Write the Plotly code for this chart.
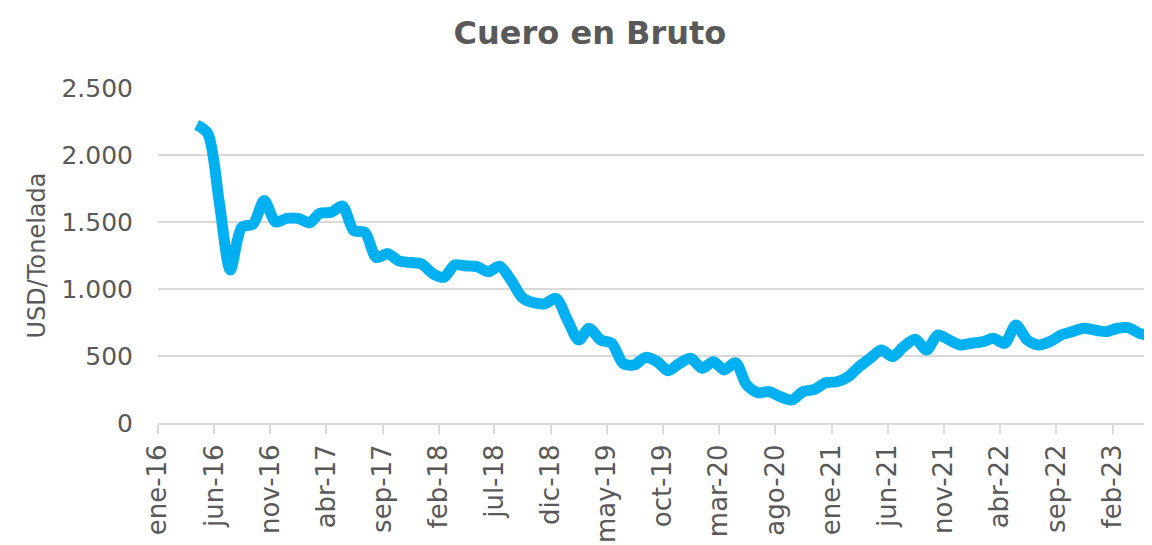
import pandas as pd
import plotly.graph_objects as go

# Monthly raw hide price (USD/Tonelada), abr-16 .. may-23 (plotted mid-month)
months = pd.date_range("2016-04-01", periods=86, freq="MS") + pd.Timedelta(days=14)
precio = [2224, 2160, 1650, 1142, 1460, 1485, 1660, 1500, 1527, 1527,
          1495, 1565, 1572, 1620, 1435, 1422, 1235, 1264, 1210, 1198,
          1188, 1115, 1088, 1179, 1172, 1167, 1129, 1170, 1067, 935,
          898, 890, 930, 769, 619, 707, 619, 595, 445, 433,
          490, 458, 390, 445, 483, 408, 458, 396, 450, 284,
          226, 234, 196, 172, 234, 251, 301, 308, 346, 418,
          483, 545, 495, 570, 625, 545, 657, 619, 582, 595,
          607, 632, 595, 731, 619, 582, 607, 657, 682, 707,
          694, 682, 707, 711, 669, 649]

tick_dates = pd.date_range("2016-01-01", periods=18, freq="5MS")
tick_labels = ["ene-16", "jun-16", "nov-16", "abr-17", "sep-17", "feb-18",
               "jul-18", "dic-18", "may-19", "oct-19", "mar-20", "ago-20",
               "ene-21", "jun-21", "nov-21", "abr-22", "sep-22", "feb-23"]
y_ticks = [0, 500, 1000, 1500, 2000, 2500]
y_labels = ["0", "500", "1.000", "1.500", "2.000", "2.500"]

FONT = "DejaVu Sans"
GREY = "#595959"

fig = go.Figure(go.Scatter(
    x=months, y=precio, mode="lines",
    line=dict(color="#00B0F0", width=11, shape="spline", smoothing=0.8),
    hoverinfo="x+y", showlegend=False,
))

fig.update_layout(
    width=1144, height=537,
    paper_bgcolor="white", plot_bgcolor="white",
    margin=dict(l=150, r=0, t=80, b=122, autoexpand=False),
    title=dict(text="<b>Cuero en Bruto</b>", x=0.5087, xanchor="center",
               y=0.953, yanchor="middle",
               font=dict(family=FONT, size=32, color=GREY)),
    font=dict(family=FONT, color=GREY),
    xaxis=dict(
        range=["2016-01-01", "2023-05-19"], automargin=False,
        tickmode="array", tickvals=tick_dates, ticktext=tick_labels,
        tickangle=-90, tickfont=dict(family=FONT, size=26, color=GREY),
        showgrid=False, showline=True, linecolor="#d9d9d9", linewidth=2,
        ticks="outside", ticklen=9, tickcolor="#d9d9d9", tickwidth=1.5,
        zeroline=False,
    ),
    yaxis=dict(
        range=[0, 2500], automargin=False,
        tickmode="array", tickvals=y_ticks, ticktext=y_labels,
        tickfont=dict(family=FONT, size=25, color=GREY),
        ticklabelstandoff=24,
        showgrid=True, gridcolor="#d9d9d9", gridwidth=2,
        zeroline=False, showline=False, ticks="",
        title=dict(text="USD/Tonelada", font=dict(family=FONT, size=24, color=GREY),
                   standoff=9),
    ),
)

fig.write_html("out.html")
